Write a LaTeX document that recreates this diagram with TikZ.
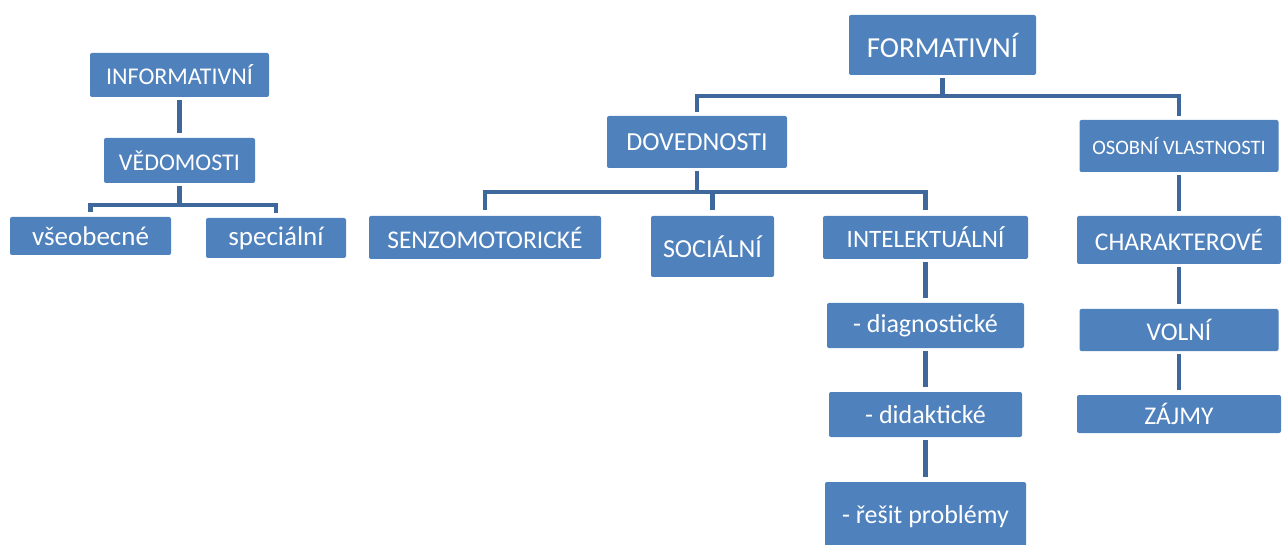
\documentclass[tikz,border=0pt]{standalone}
\usepackage{fontspec}
\setmainfont{Carlito}
\usepackage{tikz}

\definecolor{boxblue}{RGB}{79,129,189}
\definecolor{linkblue}{RGB}{62,104,155}
\newcommand{\fsz}[1]{\fontsize{#1}{#1}\selectfont}

\tikzset{
	box/.style={fill=boxblue, text=white, rounded corners=2, inner sep=0, align=center},
	link/.style={draw=linkblue, line width=4.5},
}

\begin{document}
\begin{tikzpicture}[x=1pt, y=-1pt]
		\useasboundingbox (0,0) rectangle (1285,545);
		% informative side
		\node[box, minimum width=179, minimum height=44, font=\fsz{24}] (inf) at (179.5,75) {INFORMATIVNÍ};
		\node[box, minimum width=151, minimum height=45, font=\fsz{24}] (ved) at (179.5,160.5) {VĚDOMOSTI};
		\node[box, minimum width=161, minimum height=38, font=\fsz{27}] (vse) at (90.5,236) {všeobecné};
		\node[box, minimum width=140, minimum height=40, font=\fsz{27}] (spe) at (276,238) {speciální};
		\draw[link] ([yshift=-3]inf.south) -- ([yshift=5]ved.north);
		\foreach \c in {vse,spe}
			\draw[link] ([yshift=-3]ved.south) -- ++(0,19) -| ([yshift=5]\c.north);
		% formative side
		\node[box, minimum width=187, minimum height=60, font=\fsz{29}] (form) at (942.5,45) {FORMATIVNÍ};
		\node[box, minimum width=180, minimum height=52, font=\fsz{26}] (dov) at (697,142) {DOVEDNOSTI};
		\node[box, minimum width=199, minimum height=52, font=\fsz{20.5}] (osob) at (1179,146) {OSOBNÍ VLASTNOSTI};
		\foreach \c in {dov,osob}
			\draw[link] ([yshift=-3]form.south) -- ++(0,18) -| ([yshift=4]\c.north);
		\node[box, minimum width=232, minimum height=43, font=\fsz{25.5}] (sen) at (485,237.5) {SENZOMOTORICKÉ};
		\node[box, minimum width=123, minimum height=61, font=\fsz{26}] (soc) at (712.5,246.5) {SOCIÁLNÍ};
		\node[box, minimum width=205, minimum height=43, font=\fsz{25}] (int) at (925.5,237.5) {INTELEKTUÁLNÍ};
		\foreach \c in {sen,soc,int}
			\draw[link] ([yshift=-3]dov.south) -- ++(0,21) -| ([yshift=6]\c.north);
		\node[box, minimum width=197, minimum height=45, font=\fsz{26}] (dia) at (925.5,325.5) {- diagnostické};
		\node[box, minimum width=193, minimum height=45, font=\fsz{26}] (did) at (925.5,414.5) {- didaktické};
		\node[box, minimum width=201, minimum height=70, font=\fsz{26}] (res) at (925.5,517) {- řešit problémy};
		\node[box, minimum width=204, minimum height=48, font=\fsz{25.5}] (char) at (1179,240) {CHARAKTEROVÉ};
		\node[box, minimum width=199, minimum height=42, font=\fsz{25.5}] (vol) at (1179,330) {VOLNÍ};
		\node[box, minimum width=204, minimum height=38, font=\fsz{25.5}] (zaj) at (1179,414) {ZÁJMY};
		\foreach \a/\b in {int/dia,dia/did,did/res,osob/char,char/vol,vol/zaj}
			\draw[link] ([yshift=-3]\a.south) -- ([yshift=5]\b.north);
	\end{tikzpicture}
\end{document}
